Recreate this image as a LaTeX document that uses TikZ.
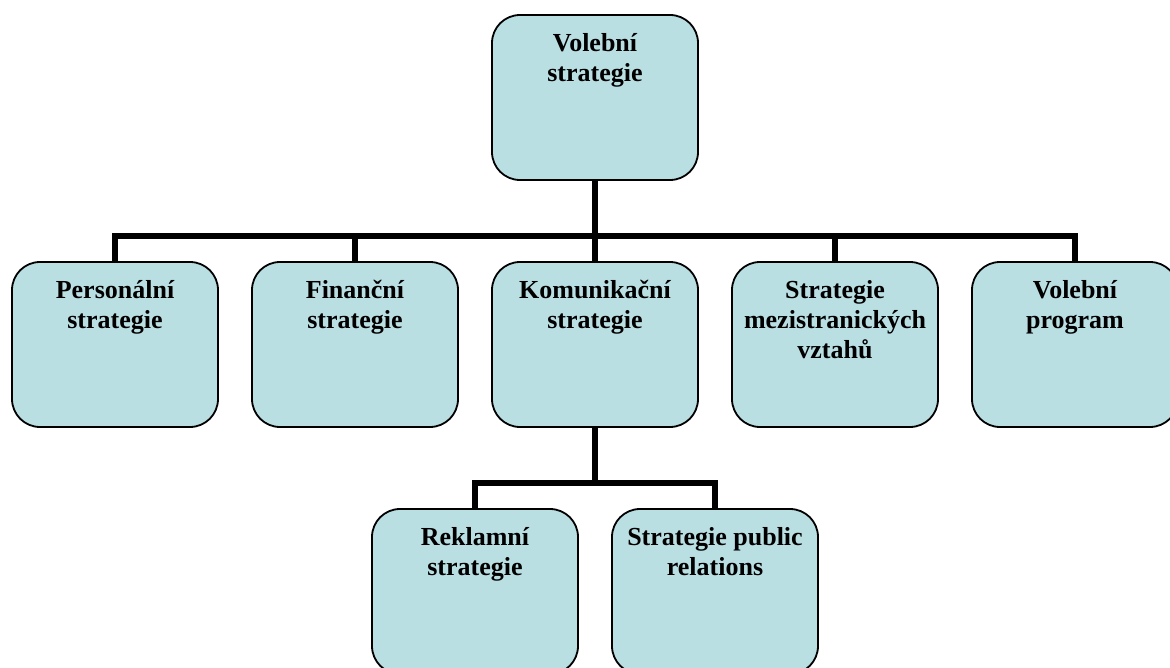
\documentclass[tikz,border=0pt]{standalone}
\usepackage{fontspec}
\setmainfont{Liberation Serif}

\definecolor{boxfill}{RGB}{186,223,227}
\newcommand{\boxtxt}[1]{\parbox[c][141pt][t]{192pt}{\vspace*{6pt}\centering #1}}

\begin{document}
\begin{tikzpicture}[box/.style = {draw=black, line width=1.8pt, fill=boxfill, rounded corners=28pt, minimum width=206pt, minimum height=165pt, inner xsep=7pt, inner ysep=12pt, font=\fontsize{26}{30}\selectfont\bfseries},
		level/.style={sibling distance = 240pt, level distance = 247pt},
		edge from parent/.style={draw, line width=6pt},
		edge from parent path={(\tikzparentnode.south) -- ++(0pt,-55pt) -| (\tikzchildnode.north)}]
	\useasboundingbox (0pt,0pt) rectangle (1170pt,-668pt);
	\node [box] (volebni) at (595pt,-97.5pt) {\boxtxt{Volební\\strategie}}
	child {node [box] (personalni) {\boxtxt{Personální\\strategie}}}
	child {node [box] (financni) {\boxtxt{Finanční\\strategie}}}
	child {node [box] (komunikacni) {\boxtxt{Komunikační\\strategie}}
			child {node [box] (reklamni) {\boxtxt{Reklamní\\strategie}}}
			child {node [box] (pr) {\boxtxt{Strategie public\\relations}}}
		}
	child {node [box] (mezistranicke) {\boxtxt{Strategie\\mezistranických\\vztahů}}}
	child {node [box] (program) {\boxtxt{Volební\\program}}}
	;
\end{tikzpicture}
\end{document}
